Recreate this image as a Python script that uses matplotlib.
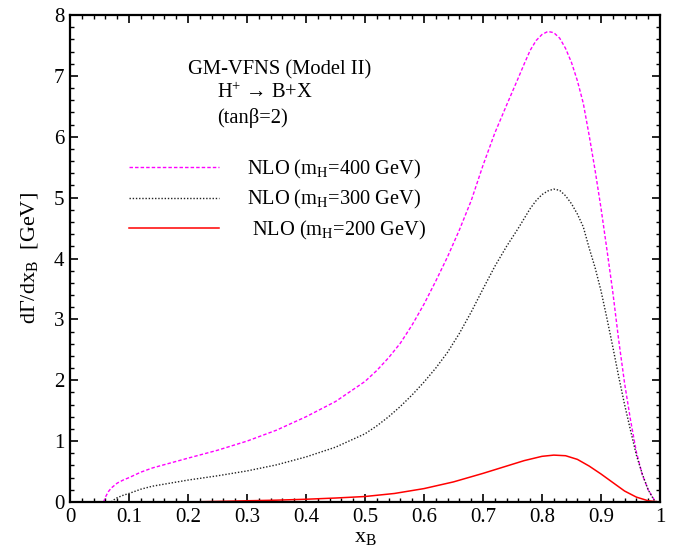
import matplotlib
matplotlib.use("Agg")
import matplotlib.pyplot as plt
from matplotlib.ticker import MultipleLocator

plt.rcParams['font.family'] = ['Liberation Serif', 'DejaVu Serif']
plt.rcParams['mathtext.fontset'] = 'custom'
plt.rcParams['mathtext.rm'] = 'Liberation Serif'
plt.rcParams['mathtext.it'] = 'Liberation Serif:italic'

# mH = 400 GeV
x400 = [0.057, 0.06, 0.065, 0.07, 0.08, 0.09, 0.10, 0.12, 0.14, 0.17, 0.20, 0.25,
        0.30, 0.35, 0.40, 0.45, 0.50, 0.52, 0.54, 0.56, 0.58, 0.60, 0.62, 0.64,
        0.66, 0.68, 0.70, 0.72, 0.74, 0.76, 0.77, 0.78, 0.79, 0.80, 0.81, 0.82,
        0.83, 0.84, 0.85, 0.86, 0.87, 0.88, 0.89, 0.90, 0.91, 0.92, 0.93, 0.94,
        0.95, 0.96, 0.97, 0.98, 0.99, 0.995]
y400 = [0.0, 0.08, 0.17, 0.23, 0.31, 0.36, 0.40, 0.49, 0.56, 0.64, 0.72, 0.85,
        1.00, 1.18, 1.40, 1.65, 1.98, 2.16, 2.37, 2.61, 2.91, 3.25, 3.63, 4.03,
        4.47, 4.95, 5.53, 6.06, 6.52, 6.97, 7.20, 7.42, 7.58, 7.68, 7.73, 7.71,
        7.62, 7.45, 7.22, 6.92, 6.55, 6.02, 5.45, 4.83, 4.15, 3.45, 2.66, 1.95,
        1.35, 0.82, 0.45, 0.20, 0.04, 0.0]

# mH = 300 GeV
x300 = [0.07, 0.075, 0.08, 0.09, 0.10, 0.12, 0.14, 0.17, 0.20, 0.25, 0.30, 0.35,
        0.40, 0.45, 0.50, 0.52, 0.54, 0.56, 0.58, 0.60, 0.62, 0.64, 0.66, 0.68,
        0.70, 0.72, 0.74, 0.76, 0.78, 0.79, 0.80, 0.81, 0.82, 0.83, 0.84, 0.85,
        0.86, 0.87, 0.88, 0.89, 0.90, 0.91, 0.92, 0.93, 0.94, 0.95, 0.96, 0.97,
        0.98, 0.99, 0.995]
y300 = [0.0, 0.04, 0.07, 0.11, 0.14, 0.21, 0.26, 0.31, 0.36, 0.43, 0.51, 0.61,
        0.74, 0.90, 1.12, 1.25, 1.40, 1.57, 1.76, 1.97, 2.20, 2.46, 2.77, 3.12,
        3.50, 3.87, 4.20, 4.50, 4.82, 4.95, 5.05, 5.11, 5.14, 5.12, 5.03, 4.90,
        4.73, 4.52, 4.17, 3.85, 3.47, 3.02, 2.55, 2.06, 1.60, 1.18, 0.77, 0.46,
        0.20, 0.03, 0.0]

# mH = 200 GeV
x200 = [0.20, 0.25, 0.30, 0.35, 0.40, 0.45, 0.50, 0.55, 0.60, 0.65, 0.70, 0.74,
        0.77, 0.80, 0.82, 0.84, 0.86, 0.88, 0.90, 0.92, 0.94, 0.96, 0.98, 1.0]
y200 = [0.0, 0.01, 0.02, 0.03, 0.045, 0.065, 0.09, 0.14, 0.22, 0.33, 0.47, 0.59,
        0.68, 0.75, 0.77, 0.76, 0.70, 0.59, 0.46, 0.32, 0.18, 0.08, 0.02, 0.0]

labels = ['NLO (m$_\\mathregular{H}$=400 GeV)',
          'NLO (m$_\\mathregular{H}$=300 GeV)',
          ' NLO (m$_\\mathregular{H}$=200 GeV)']

fig = plt.figure(figsize=(6.83, 5.5), dpi=100)
ax = fig.add_axes([0.1025, 0.0873, 0.8638, 0.8854])

ax.plot(x400, y400, color='#ff00ff', lw=1.0, linestyle=(0, (2.5, 1.5)), label=labels[0])
ax.plot(x300, y300, color='#222222', lw=1.0, linestyle=(0, (1, 1.3)), label=labels[1])
ax.plot(x200, y200, color='#ff0000', lw=1.1, label=labels[2])

ax.set_xlim(0, 1)
ax.set_ylim(0, 8)
ax.xaxis.set_major_locator(MultipleLocator(0.1))
ax.xaxis.set_minor_locator(MultipleLocator(0.02))
ax.yaxis.set_major_locator(MultipleLocator(1))
ax.yaxis.set_minor_locator(MultipleLocator(0.2))
ax.set_xticks([0, 0.1, 0.2, 0.3, 0.4, 0.5, 0.6, 0.7, 0.8, 0.9, 1.0])
ax.set_xticklabels(['0', '0.1', '0.2', '0.3', '0.4', '0.5', '0.6', '0.7', '0.8', '0.9', '1'])
ax.tick_params(which='both', direction='in', top=True, right=True, labelsize=15, pad=4)
ax.tick_params(which='major', length=6, width=1.2)
ax.tick_params(which='minor', length=3, width=1.0)
for s in ax.spines.values():
    s.set_linewidth(1.6)

ax.set_xlabel('x$_\\mathregular{B}$', fontsize=16, labelpad=1)
ax.set_ylabel('dΓ/dx$_\\mathregular{B}$  [GeV]', fontsize=16, labelpad=10)

ax.text(0.2, 0.887, 'GM-VFNS (Model II)', transform=ax.transAxes, fontsize=14.8, va='center')
ax.text(0.249, 0.84, 'H$^\\mathregular{+}$ → B+X', transform=ax.transAxes, fontsize=14.8, va='center')
ax.text(0.249, 0.789, '(tanβ=2)', transform=ax.transAxes, fontsize=14.8, va='center')

ax.legend(loc='upper left', bbox_to_anchor=(0.1, 0.707), frameon=False, fontsize=14.7,
          handlelength=4.4, handletextpad=1.4, labelspacing=0.37, borderpad=0,
          borderaxespad=0)

fig.savefig('out.png', dpi=100)
